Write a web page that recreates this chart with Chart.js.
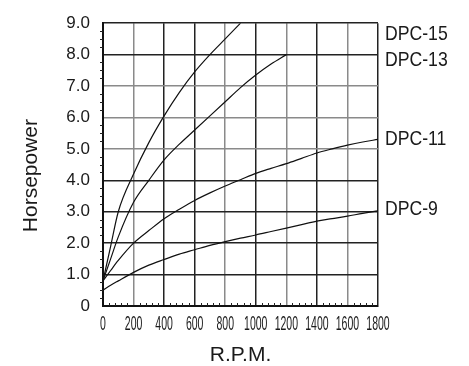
<!DOCTYPE html>
<html>
<head>
<meta charset="utf-8">
<script src="https://cdn.jsdelivr.net/npm/chart.js@4"></script>
<style>
  body { margin: 0; background: #fff; }
  canvas { display: block; }
</style>
</head>
<body>
<canvas id="hpChart" width="469" height="366"></canvas>
<script>
// Horsepower vs R.P.M. for each pump size
const seriesNames = ['DPC-15', 'DPC-13', 'DPC-11', 'DPC-9'];
const rpmSteps = [0, 50, 100, 200, 300, 400, 500, 600, 700, 800, 900, 1000, 1100, 1200, 1300, 1400, 1500, 1600, 1700, 1800];
const hpDpc15 = [0.8, 1.9, 3.0, 4.2, 5.2, 6.05, 6.8, 7.45, 8.0, 8.5, 9.0];
const hpDpc13 = [0.8, 1.5, 2.2, 3.3, 4.0, 4.65, 5.15, 5.6, 6.05, 6.5, 6.95, 7.35, 7.7, 8.0];
const hpDpc11 = [0.8, 1.13, 1.45, 2.0, 2.4, 2.78, 3.08, 3.36, 3.6, 3.82, 4.02, 4.22, 4.38, 4.53, 4.7, 4.87, 5.0, 5.12, 5.22, 5.3];
const hpDpc9 = [0.5, 0.66, 0.8, 1.07, 1.3, 1.48, 1.65, 1.79, 1.93, 2.05, 2.16, 2.26, 2.37, 2.48, 2.59, 2.7, 2.78, 2.86, 2.95, 3.03];
const xTitle = 'R.P.M.';
const yTitle = 'Horsepower';

const plainFont = '"Liberation Sans", Arial, sans-serif';

// where each curve's name sits, in horsepower units
const labelAt = [8.65, 7.82, 5.31, 3.07];

// the scanned grid has a mix of light and dark lines
const xGridColors = ['#222', '#8a8a8a', '#222', '#222', '#8a8a8a', '#222', '#8a8a8a', '#222', '#8a8a8a', '#222'];
const yGridColors = ['#222', '#222', '#222', '#222', '#222', '#8a8a8a', '#8a8a8a', '#8a8a8a', '#222', '#222'];

function toPoints(values) {
    return values.map((v, i) => ({ x: rpmSteps[i], y: v }));
}

// draw text squeezed horizontally (the original uses a condensed face)
function squeezedText(ctx, text, x, y, squeeze) {
    ctx.save();
    ctx.translate(x, y);
    ctx.scale(squeeze, 1);
    ctx.fillText(text, 0, 0);
    ctx.restore();
}

// minor ticks, condensed x tick labels, y title and curve names
const extrasPlugin = {
    id: 'extras',
    afterDraw(chart) {
        const ctx = chart.ctx;
        const xs = chart.scales.x;
        const ys = chart.scales.y;
        const area = chart.chartArea;

        ctx.save();
        ctx.strokeStyle = '#222';
        ctx.lineWidth = 1;
        // minor ticks on the x axis every 40 rpm
        for (let v = 40; v < 1800; v += 40) {
            if (v % 200 === 0) continue;
            const px = Math.round(xs.getPixelForValue(v)) + 0.5;
            ctx.beginPath();
            ctx.moveTo(px, area.bottom);
            ctx.lineTo(px, area.bottom - 3);
            ctx.stroke();
        }
        // minor ticks on the y axis every 0.25 hp
        for (let v = 0.25; v < 9; v += 0.25) {
            if (Math.abs(v - Math.round(v)) < 0.01) continue;
            const py = Math.round(ys.getPixelForValue(v)) + 0.5;
            ctx.beginPath();
            ctx.moveTo(area.left, py);
            ctx.lineTo(area.left - 3, py);
            ctx.stroke();
        }

        ctx.fillStyle = '#1a1a1a';
        ctx.textBaseline = 'middle';

        // x tick labels
        ctx.font = '21px ' + plainFont;
        ctx.textAlign = 'center';
        xs.ticks.forEach(t => {
            squeezedText(ctx, String(t.value), xs.getPixelForValue(t.value), area.bottom + 18, 0.5);
        });

        // y title, sitting a little below the middle of the axis as in the original
        ctx.save();
        ctx.translate(31, (area.top + area.bottom) / 2 + 11);
        ctx.rotate(-Math.PI / 2);
        ctx.fillText(yTitle, 0, 0);
        ctx.restore();

        // curve names at the right
        ctx.textAlign = 'left';
        seriesNames.forEach((name, i) => {
            squeezedText(ctx, name, area.right + 7, ys.getPixelForValue(labelAt[i]), 0.84);
        });
        ctx.restore();
    }
};

const datasets = [hpDpc15, hpDpc13, hpDpc11, hpDpc9].map((values, i) => ({
    label: seriesNames[i],
    data: toPoints(values),
    borderColor: '#111',
    borderWidth: 1.2,
    pointRadius: 0,
    cubicInterpolationMode: 'monotone',
    fill: false
}));

new Chart(document.getElementById('hpChart'), {
    type: 'line',
    data: { datasets: datasets },
    options: {
        responsive: false,
        animation: false,
        layout: { padding: { left: 0, right: 91, top: 16, bottom: 0 } },
        plugins: {
            legend: { display: false },
            tooltip: { enabled: false }
        },
        scales: {
            x: {
                type: 'linear',
                min: 0,
                max: 1800,
                afterFit(scale) { scale.height = 60; },
                ticks: { stepSize: 200, display: false },
                grid: {
                    drawTicks: false,
                    lineWidth: 1.5,
                    color: c => xGridColors[c.index] || '#222'
                },
                border: { display: true, color: '#111', width: 2 },
                title: {
                    display: true,
                    text: xTitle,
                    color: '#1a1a1a',
                    font: { family: plainFont, size: 21, lineHeight: 1 },
                    padding: { top: 0, bottom: 0 }
                }
            },
            y: {
                min: 0,
                max: 9,
                afterFit(scale) { scale.width = 103; },
                ticks: {
                    stepSize: 1,
                    padding: 13,
                    color: '#1a1a1a',
                    font: { family: plainFont, size: 17 },
                    callback: v => v === 0 ? '0' : v.toFixed(1)
                },
                grid: {
                    drawTicks: false,
                    lineWidth: 1.5,
                    color: c => yGridColors[c.index] || '#222'
                },
                border: { display: true, color: '#111', width: 2 }
            }
        }
    },
    plugins: [extrasPlugin]
});
</script>
</body>
</html>
